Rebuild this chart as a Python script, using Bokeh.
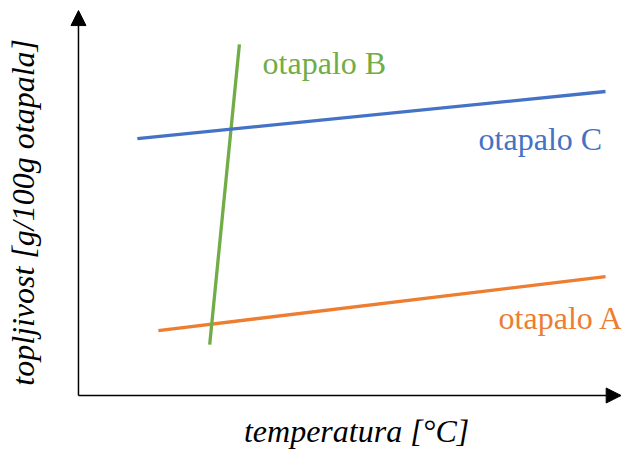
from bokeh.plotting import figure
from bokeh.models import Range1d, Arrow, NormalHead, Label
from bokeh.embed import file_html
from bokeh.resources import INLINE

# Data (arbitrary units: temperature 0..100, solubility 0..100)
series_names = ["otapalo A", "otapalo B", "otapalo C"]
temp_A = [14.8, 97.6]
sol_A = [17.1, 31.3]
temp_B = [24.3, 29.8]
sol_B = [13.4, 92.4]
temp_C = [10.9, 97.6]
sol_C = [67.6, 80.0]
colors = ["#ED7D31", "#70AD47", "#4472C4"]
x_label = "temperatura [°C]"
y_label = "topljivost [g/100g otapala]"

FONT = "Liberation Serif"

p = figure(width=621, height=450, output_backend="svg", toolbar_location=None,
           x_range=Range1d(-14.44, 100.56), y_range=Range1d(-14.47, 103.95),
           min_border=0, x_axis_location=None, y_axis_location=None)
p.grid.visible = False
p.outline_line_color = None
p.background_fill_color = "white"

# Axes with arrows
p.add_layout(Arrow(x_start=0, y_start=0, x_end=0, y_end=101.3, line_color="black", line_width=1.5,
                   end=NormalHead(size=15, fill_color="black", line_color="black")))
p.add_layout(Arrow(x_start=0, y_start=0, x_end=100.5, y_end=0, line_color="black", line_width=1.5,
                   end=NormalHead(size=15, fill_color="black", line_color="black")))

for tx, sy, c in zip([temp_A, temp_B, temp_C], [sol_A, sol_B, sol_C], colors):
    p.line(tx, sy, line_color=c, line_width=3.3)

label_pos = [(77.8, 20.3), (34.1, 87.4), (74.1, 67.6)]
for name, c, (lx, ly) in zip(series_names, colors, label_pos):
    p.add_layout(Label(x=lx, y=ly, text=name, text_color=c, text_font=FONT,
                       text_font_size="32px", text_baseline="alphabetic", text_align="left"))

p.add_layout(Label(x=51.5, y=-9.4, text=x_label, text_font=FONT, text_font_style="italic",
                   text_font_size="32px", text_baseline="alphabetic", text_align="center",
                   text_color="black"))
p.add_layout(Label(x=-10.2, y=48.2, text=y_label, text_font=FONT, text_font_style="italic",
                   text_font_size="32px", text_baseline="middle", text_align="center",
                   angle=1.5708, text_color="black"))

open("out.html", "w").write(file_html(p, INLINE))
